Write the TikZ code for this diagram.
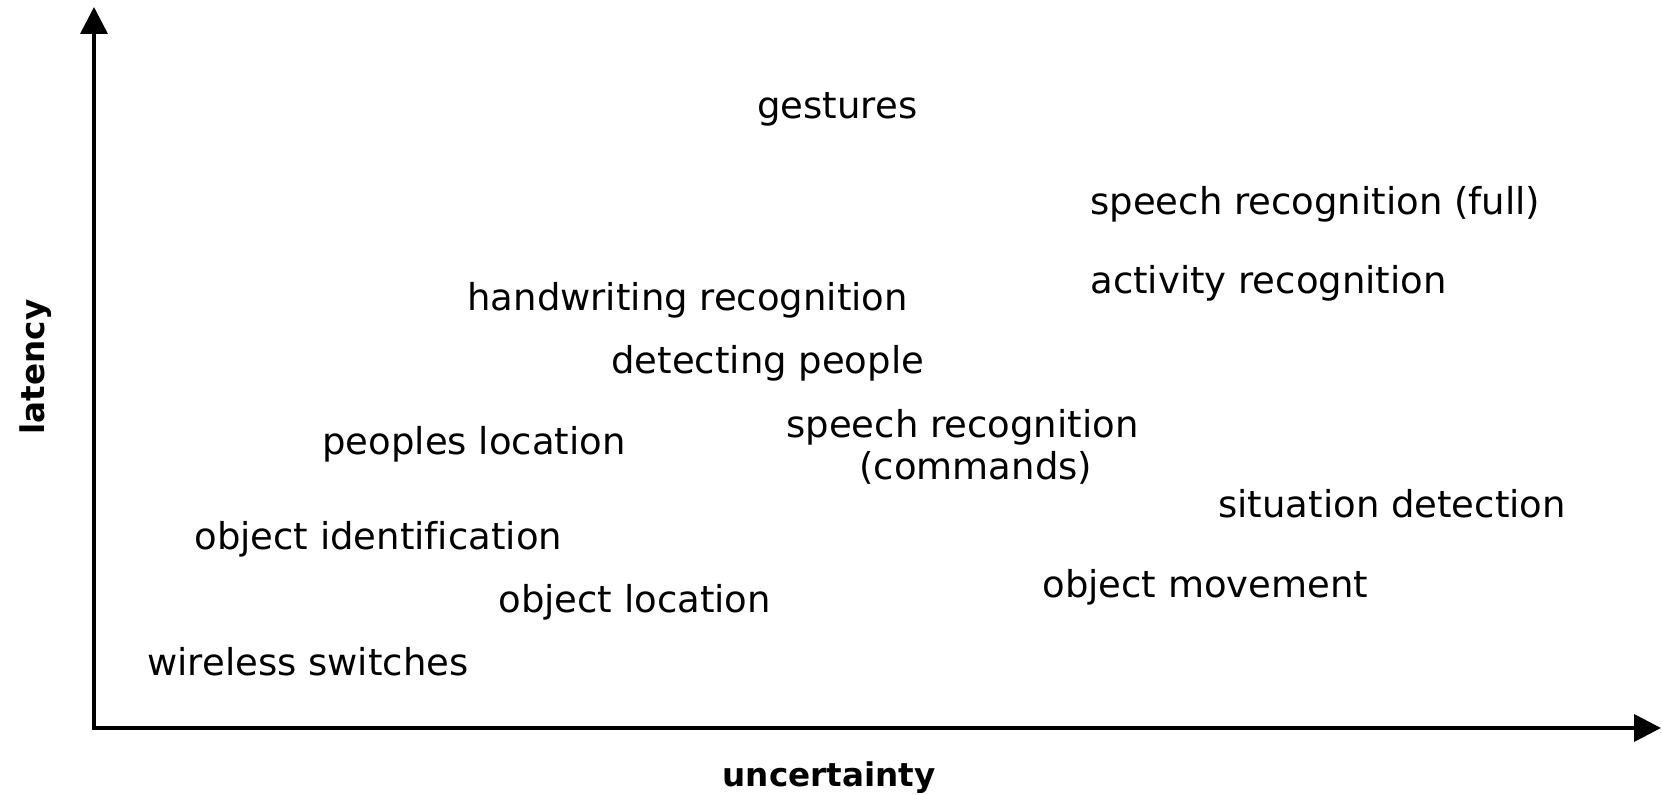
\documentclass[tikz,border=0pt]{standalone}
\usepackage{fontspec}
\setmainfont{DejaVu Sans}[Ligatures=NoCommon]
\usetikzlibrary{arrows.meta}
\tikzset{
  lbl/.style={anchor=base west, inner sep=0pt, font=\fontsize{18.5}{21}\selectfont},
  axlbl/.style={anchor=base, inner sep=0pt, font=\fontsize{16.3}{19}\selectfont\bfseries},
  axis/.style={line width=1.8pt, {Triangle[length=13.5pt,width=13.5pt]}-{Triangle[length=13.5pt,width=13.5pt]}}
}
\begin{document}
\begin{tikzpicture}[x=0.5pt,y=-0.5pt]
\useasboundingbox (0,0) rectangle (1662,795);
\coordinate (ytip) at (94,7);
\coordinate (O) at (94,728);
\coordinate (xtip) at (1661,728);
\draw[axis] (ytip) -- (O) -- (xtip);
\node[axlbl] (unc) at (829,787) {uncertainty};
\node[axlbl, rotate=90] (lat) at (44,367) {latency};
\node[lbl] (gest) at (757,119) {gestures};
\node[lbl] (srfull) at (1090,215) {speech recognition (full)};
\node[lbl] (act) at (1090,294) {activity recognition};
\node[lbl] (hand) at (467,311) {handwriting recognition};
\node[lbl] (detp) at (611,374) {detecting people};
\node[lbl, align=left] (srcmd) at (786,480) {speech recognition\\\hspace*{36.5pt}(commands)};
\node[lbl] (ploc) at (322,455) {peoples location};
\node[lbl] (sit) at (1218,518) {situation detection};
\node[lbl] (oid) at (194,550) {object identification};
\node[lbl] (omov) at (1042,598) {object movement};
\node[lbl] (oloc) at (498,613) {object location};
\node[lbl] (wsw) at (147,676) {wireless switches};
\end{tikzpicture}
\end{document}
